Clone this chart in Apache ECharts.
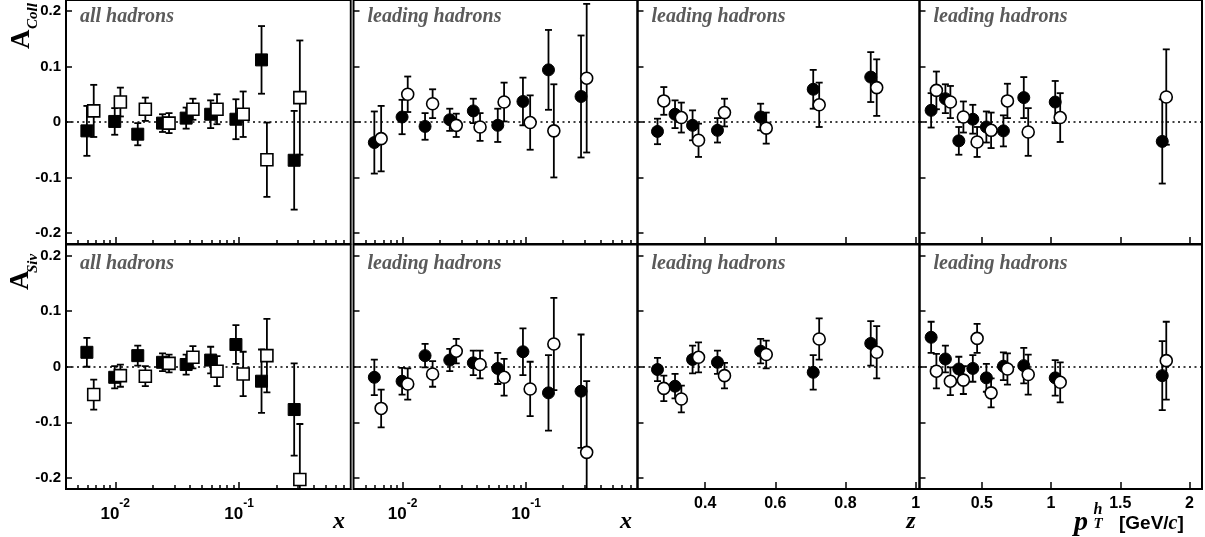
<!DOCTYPE html>
<html><head><meta charset="utf-8">
<script src="https://cdn.jsdelivr.net/npm/echarts@6/dist/echarts.min.js"></script>
<style>html,body{margin:0;padding:0;background:#fff}#c{width:1205px;height:537px}</style>
</head><body><div id="c"></div>
<script>
// ---------- x bins ----------
const xBinFilled = [0.0059, 0.0099, 0.0152, 0.0241, 0.0374, 0.0590, 0.0944, 0.152, 0.279];
const xBinOpen   = [0.0067, 0.0110, 0.0175, 0.0272, 0.0424, 0.0664, 0.108, 0.168, 0.310];
const zFilled = [0.264, 0.314, 0.364, 0.435, 0.558, 0.708, 0.872];
const zOpen   = [0.282, 0.332, 0.381, 0.455, 0.574, 0.725, 0.889];
const ptFilled = [0.134, 0.237, 0.334, 0.435, 0.533, 0.656, 0.803, 1.030, 1.803];
const ptOpen   = [0.172, 0.273, 0.367, 0.466, 0.567, 0.685, 0.835, 1.066, 1.832];

// ---------- Collins, all hadrons vs x ----------
const collAllFilled    = [-0.016, 0.001, -0.022, -0.002, 0.007, 0.014, 0.005, 0.112, -0.069];
const collAllFilledErr = [0.045, 0.024, 0.020, 0.016, 0.019, 0.025, 0.036, 0.061, 0.089];
const collAllOpen      = [0.020, 0.036, 0.023, -0.002, 0.023, 0.023, 0.014, -0.068, 0.044];
const collAllOpenErr   = [0.047, 0.026, 0.021, 0.018, 0.019, 0.027, 0.041, 0.067, 0.103];
// ---------- Sivers, all hadrons vs x ----------
const sivAllFilled    = [0.026, -0.019, 0.020, 0.008, 0.004, 0.012, 0.040, -0.026, -0.077];
const sivAllFilledErr = [0.026, 0.020, 0.018, 0.016, 0.018, 0.024, 0.035, 0.057, 0.083];
const sivAllOpen      = [-0.050, -0.016, -0.017, 0.006, 0.017, -0.008, -0.013, 0.020, -0.203];
const sivAllOpenErr   = [0.027, 0.020, 0.018, 0.016, 0.020, 0.027, 0.040, 0.066, 0.100];
// ---------- Collins, leading hadrons vs x ----------
const collLeadFilled    = [-0.037, 0.009, -0.008, 0.004, 0.020, -0.006, 0.037, 0.094, 0.046];
const collLeadFilledErr = [0.056, 0.031, 0.024, 0.020, 0.022, 0.030, 0.043, 0.072, 0.110];
const collLeadOpen      = [-0.030, 0.050, 0.033, -0.006, -0.009, 0.036, -0.001, -0.016, 0.079];
const collLeadOpenErr   = [0.059, 0.032, 0.026, 0.021, 0.025, 0.035, 0.049, 0.084, 0.134];
// ---------- Sivers, leading hadrons vs x ----------
const sivLeadFilled    = [-0.019, -0.026, 0.020, 0.012, 0.007, -0.003, 0.027, -0.047, -0.044];
const sivLeadFilledErr = [0.032, 0.024, 0.021, 0.020, 0.022, 0.028, 0.042, 0.068, 0.102];
const sivLeadOpen      = [-0.075, -0.031, -0.013, 0.028, 0.004, -0.019, -0.040, 0.041, -0.154];
const sivLeadOpenErr   = [0.034, 0.028, 0.023, 0.022, 0.025, 0.033, 0.049, 0.083, 0.128];
// ---------- Collins / Sivers vs z ----------
const collZFilled    = [-0.017, 0.014, -0.006, -0.015, 0.009, 0.059, 0.081];
const collZFilledErr = [0.023, 0.025, 0.027, 0.022, 0.024, 0.035, 0.045];
const collZOpen      = [0.038, 0.008, -0.033, 0.017, -0.011, 0.031, 0.062];
const collZOpenErr   = [0.025, 0.027, 0.030, 0.025, 0.028, 0.040, 0.051];
const sivZFilled    = [-0.005, -0.035, 0.013, 0.008, 0.028, -0.010, 0.042];
const sivZFilledErr = [0.021, 0.022, 0.025, 0.021, 0.022, 0.031, 0.040];
const sivZOpen      = [-0.039, -0.058, 0.017, -0.016, 0.022, 0.050, 0.026];
const sivZOpenErr   = [0.023, 0.024, 0.027, 0.023, 0.025, 0.037, 0.047];
// ---------- Collins / Sivers vs pT ----------
const collPtFilled    = [0.021, 0.042, -0.034, 0.005, -0.009, -0.016, 0.044, 0.036, -0.035];
const collPtFilledErr = [0.031, 0.026, 0.025, 0.026, 0.028, 0.028, 0.037, 0.038, 0.076];
const collPtOpen      = [0.057, 0.036, 0.009, -0.036, -0.015, 0.038, -0.018, 0.008, 0.045];
const collPtOpenErr   = [0.034, 0.029, 0.028, 0.027, 0.032, 0.031, 0.043, 0.044, 0.086];
const sivPtFilled    = [0.053, 0.014, -0.004, -0.003, -0.020, 0.001, 0.002, -0.020, -0.016];
const sivPtFilledErr = [0.028, 0.024, 0.022, 0.024, 0.025, 0.025, 0.032, 0.032, 0.062];
const sivPtOpen      = [-0.008, -0.026, -0.024, 0.051, -0.047, -0.004, -0.014, -0.028, 0.011];
const sivPtOpenErr   = [0.031, 0.025, 0.025, 0.026, 0.026, 0.028, 0.036, 0.036, 0.070];

// ---------- ticks ----------
const yTicks = [-0.2, -0.1, 0, 0.1, 0.2];
const logMajorTicks = [0.01, 0.1];
const logMinorTicks = [0.005, 0.006, 0.007, 0.008, 0.009, 0.02, 0.03, 0.04, 0.05, 0.06, 0.07, 0.08, 0.09, 0.2, 0.3, 0.4, 0.5, 0.6, 0.7];
const zTicks = [0.4, 0.6, 0.8, 1];
const ptTicks = [0.5, 1, 1.5, 2];
const panelLabels = ['all hadrons', 'leading hadrons', 'leading hadrons', 'leading hadrons'];

// ---------- layout ----------
const colLeft = [66, 353.5, 637.5, 919.5];
const colWidth = [284.8, 284, 282, 282.5];
const rowTop = [0, 244.5];
const rowHeight = [244, 244.5];
const SANS = '"Liberation Sans", Arial, sans-serif';
const SERIF = '"Liberation Serif", "Times New Roman", serif';

const cols = [
  { type: 'log', min: 0.004, max: 0.8, sym: 'rect', size: 12, xF: xBinFilled, xO: xBinOpen, ticks: logMajorTicks,
    rows: [[collAllFilled, collAllFilledErr, collAllOpen, collAllOpenErr], [sivAllFilled, sivAllFilledErr, sivAllOpen, sivAllOpenErr]] },
  { type: 'log', min: 0.004, max: 0.8, sym: 'circle', size: 12, xF: xBinFilled, xO: xBinOpen, ticks: logMajorTicks,
    rows: [[collLeadFilled, collLeadFilledErr, collLeadOpen, collLeadOpenErr], [sivLeadFilled, sivLeadFilledErr, sivLeadOpen, sivLeadOpenErr]] },
  { type: 'value', min: 0.207, max: 1.011, sym: 'circle', size: 12, xF: zFilled, xO: zOpen, ticks: zTicks,
    rows: [[collZFilled, collZFilledErr, collZOpen, collZOpenErr], [sivZFilled, sivZFilledErr, sivZOpen, sivZOpenErr]] },
  { type: 'value', min: 0.05, max: 2.09, sym: 'circle', size: 12, xF: ptFilled, xO: ptOpen, ticks: ptTicks,
    rows: [[collPtFilled, collPtFilledErr, collPtOpen, collPtOpenErr], [sivPtFilled, sivPtFilledErr, sivPtOpen, sivPtOpenErr]] }
];

function errRender(params, api) {
  const x = api.value(0), lo = api.value(1), hi = api.value(2);
  const cs = params.coordSys;
  const a = api.coord([x, hi]), b = api.coord([x, lo]);
  const top = cs.y, bot = cs.y + cs.height;
  const st = { stroke: '#000', lineWidth: 1.8 };
  const y1 = Math.max(a[1], top), y2 = Math.min(b[1], bot);
  const ch = [{ type: 'line', shape: { x1: a[0], y1: y1, x2: a[0], y2: y2 }, style: st }];
  const cw = 3.5;
  if (a[1] >= top) ch.push({ type: 'line', shape: { x1: a[0] - cw, y1: a[1], x2: a[0] + cw, y2: a[1] }, style: st });
  if (b[1] <= bot) ch.push({ type: 'line', shape: { x1: b[0] - cw, y1: b[1], x2: b[0] + cw, y2: b[1] }, style: st });
  return { type: 'group', children: ch };
}

const grids = [], xAxes = [], yAxes = [], series = [];
const tickStyle = { color: '#000', width: 1.5 };

cols.forEach((c, ci) => {
  [0, 1].forEach(ri => {
    const gi = grids.length;
    grids.push({ left: colLeft[ci], top: rowTop[ri], width: colWidth[ci], height: rowHeight[ri],
      show: true, borderColor: '#000', borderWidth: 2, backgroundColor: 'transparent', containLabel: false });
    const showLab = ri === 1;
    const xi = xAxes.length;
    const xa = {
      type: c.type, gridIndex: gi, min: c.min, max: c.max, position: 'bottom',
      axisLine: { show: false, onZero: false }, splitLine: { show: false },
      axisTick: { show: true, inside: true, length: 7, lineStyle: tickStyle, customValues: c.ticks },
      axisLabel: { show: showLab, customValues: c.ticks, margin: 7, color: '#000',
        fontFamily: SANS, fontWeight: 'bold', fontSize: 16 }
    };
    if (c.type === 'log') {
      xa.logBase = 10;
      xa.axisLabel.formatter = v => '{b|10}{s|' + Math.round(Math.log10(v)) + '}';
      xa.axisLabel.rich = {
        b: { fontFamily: SANS, fontWeight: 'bold', fontSize: 17, color: '#000', padding: [8, 0, 0, 0], verticalAlign: 'bottom' },
        s: { fontFamily: SANS, fontWeight: 'bold', fontSize: 12, color: '#000', verticalAlign: 'top' }
      };
      xa.axisLabel.margin = 9;
    } else {
      xa.axisLabel.formatter = v => String(+v.toFixed(2));
    }
    xAxes.push(xa);
    if (c.type === 'log') {
      xAxes.push({
        type: 'log', logBase: 10, gridIndex: gi, min: c.min, max: c.max, position: 'bottom', offset: 0,
        axisLine: { show: false, onZero: false }, splitLine: { show: false }, axisLabel: { show: false },
        axisTick: { show: true, inside: true, length: 4, lineStyle: tickStyle, customValues: logMinorTicks }
      });
    }
    const yi = yAxes.length;
    yAxes.push({
      type: 'value', gridIndex: gi, min: -0.22, max: 0.22,
      axisLine: { show: false, onZero: false }, splitLine: { show: false },
      axisTick: { show: true, inside: true, length: 6, lineStyle: tickStyle, customValues: yTicks },
      axisLabel: { show: ci === 0, customValues: yTicks, margin: 5, color: '#000',
        fontFamily: SANS, fontWeight: 'bold', fontSize: 15,
        formatter: v => String(+v.toFixed(2)) }
    });
    const [vF, eF, vO, eO] = c.rows[ri];
    const mk = (xs, vs, es) => xs.map((x, i) => [x, vs[i] - es[i], vs[i] + es[i]]);
    series.push({ type: 'custom', xAxisIndex: xi, yAxisIndex: yi, renderItem: errRender,
      data: mk(c.xF, vF, eF), z: 2, silent: true, clip: true });
    series.push({ type: 'custom', xAxisIndex: xi, yAxisIndex: yi, renderItem: errRender,
      data: mk(c.xO, vO, eO), z: 2, silent: true, clip: true });
    series.push({ type: 'scatter', xAxisIndex: xi, yAxisIndex: yi, symbol: c.sym, symbolSize: c.size,
      itemStyle: { color: '#000', borderColor: '#000', borderWidth: 1, opacity: 1 }, z: 4, silent: true,
      data: c.xF.map((x, i) => [x, vF[i]]),
      markLine: { silent: true, symbol: 'none', label: { show: false }, z: 1,
        lineStyle: { color: '#000', type: [2, 3.5], width: 1.5, opacity: 1 }, data: [{ yAxis: 0 }] } });
    series.push({ type: 'scatter', xAxisIndex: xi, yAxisIndex: yi, symbol: c.sym, symbolSize: c.size,
      itemStyle: { color: '#fff', borderColor: '#000', borderWidth: 1.6, opacity: 1 }, z: 5, silent: true,
      data: c.xO.map((x, i) => [x, vO[i]]) });
  });
});

const graphic = [];
cols.forEach((c, ci) => {
  [0, 1].forEach(ri => {
    graphic.push({ type: 'text', x: colLeft[ci] + 14, y: rowTop[ri] + (ri === 0 ? 7 : 9), z: 10, silent: true,
      style: { text: panelLabels[ci], font: 'italic bold 20px ' + SERIF, fill: '#5a5a5a', align: 'left', verticalAlign: 'top' } });
  });
});
// gap of the double frame line between panels 1 and 2
graphic.push({ type: 'rect', shape: { x: 351.6, y: 0, width: 1.1, height: 489 }, style: { fill: '#9a9a9a' }, z: 10, silent: true });
// axis titles
const titleFont = 'italic bold 24px ' + SERIF;
graphic.push({ type: 'text', x: 339, y: 522, style: { text: 'x', font: titleFont, fill: '#000', align: 'center', verticalAlign: 'middle' } });
graphic.push({ type: 'text', x: 626, y: 522, style: { text: 'x', font: titleFont, fill: '#000', align: 'center', verticalAlign: 'middle' } });
graphic.push({ type: 'text', x: 911, y: 522, style: { text: 'z', font: titleFont, fill: '#000', align: 'center', verticalAlign: 'middle' } });
graphic.push({ type: 'text', x: 1081, y: 537, style: { text: 'p', font: 'italic bold 28px ' + SERIF, fill: '#000', align: 'center', verticalAlign: 'bottom' } });
graphic.push({ type: 'text', x: 1098, y: 502, style: { text: 'h', font: 'italic bold 16px ' + SERIF, fill: '#000', align: 'center', verticalAlign: 'top' } });
graphic.push({ type: 'text', x: 1098, y: 517, style: { text: 'T', font: 'italic bold 15px ' + SERIF, fill: '#000', align: 'center', verticalAlign: 'top' } });
graphic.push({ type: 'text', x: 1119, y: 524, style: { text: '{a|[GeV/}{c|c}{a|]}', align: 'left', verticalAlign: 'middle',
  rich: { a: { font: 'bold 19px ' + SANS, fill: '#000', color: '#000' }, c: { font: 'italic bold 20px ' + SERIF, fill: '#000', color: '#000' } } } });
// y titles (rotated)
graphic.push({ type: 'text', x: 22, y: 49, rotation: Math.PI / 2, style: { text: 'A', font: 'bold 27px ' + SERIF, fill: '#000', align: 'left', verticalAlign: 'middle' } });
graphic.push({ type: 'text', x: 33, y: 29, rotation: Math.PI / 2, style: { text: 'Coll', font: 'italic bold 15px ' + SERIF, fill: '#000', align: 'left', verticalAlign: 'middle' } });
graphic.push({ type: 'text', x: 21, y: 290, rotation: Math.PI / 2, style: { text: 'A', font: 'bold 27px ' + SERIF, fill: '#000', align: 'left', verticalAlign: 'middle' } });
graphic.push({ type: 'text', x: 33, y: 273, rotation: Math.PI / 2, style: { text: 'Siv', font: 'italic bold 15px ' + SERIF, fill: '#000', align: 'left', verticalAlign: 'middle' } });

const chart = echarts.init(document.getElementById('c'));
chart.setOption({
  animation: false,
  backgroundColor: '#fff',
  grid: grids, xAxis: xAxes, yAxis: yAxes, series: series, graphic: graphic
});
</script></body></html>
